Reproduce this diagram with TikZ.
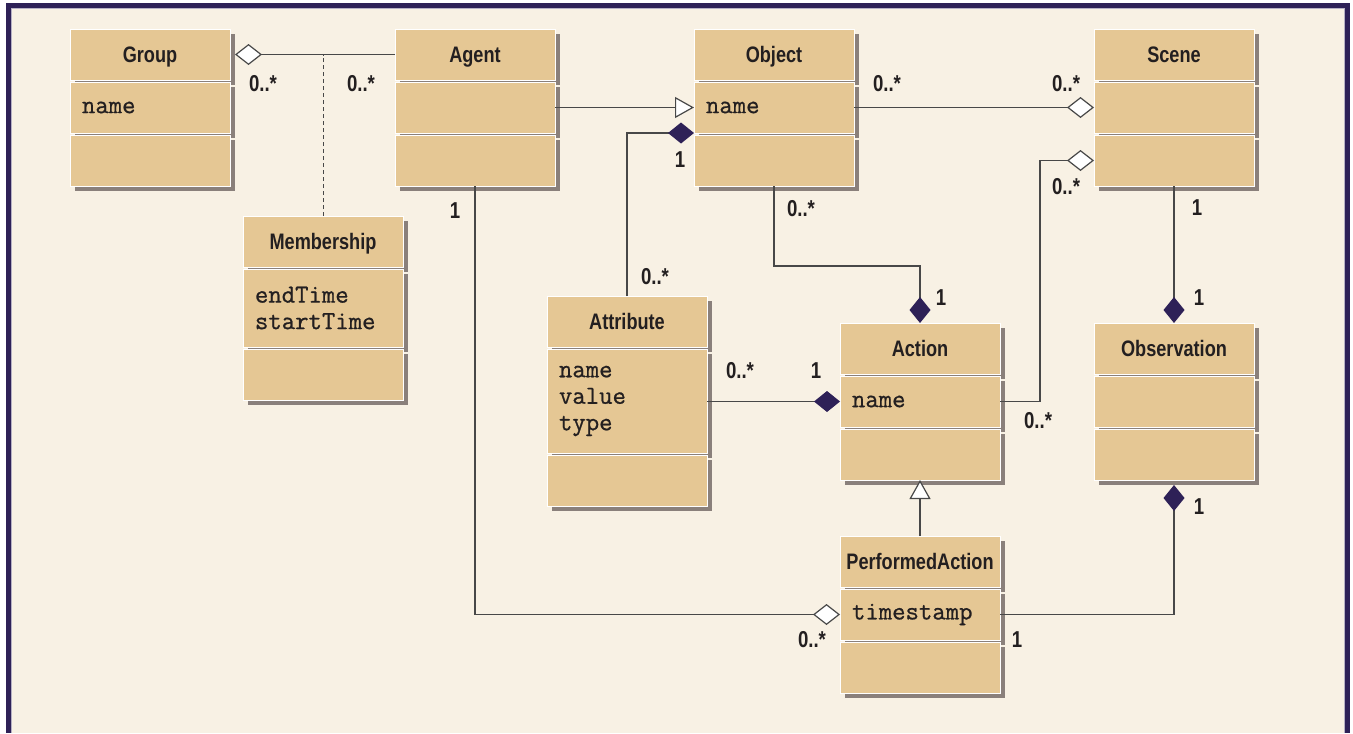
\documentclass[tikz,border=0pt]{standalone}
\usepackage{fontspec}
\usetikzlibrary{positioning,shadows,arrows.meta}
\newfontfamily\headfont{Liberation Sans}[FakeStretch=0.81]
\setmonofont{Latin Modern Mono}[FakeBold=0.8]
\definecolor{framecol}{HTML}{2E2157}
\definecolor{paper}{HTML}{F8F1E4}
\definecolor{boxfill}{HTML}{E5C794}
\definecolor{shade}{HTML}{8A807B}
\definecolor{linecol}{HTML}{484848}
\definecolor{textcol}{HTML}{231F20}
\begin{document}
\begin{tikzpicture}[x=0.5pt, y=-0.5pt,
		comp/.style={rectangle, draw=white, line width=0.5pt, fill=boxfill, outer sep=0pt,
			minimum width=80pt, minimum height=25.5pt, inner xsep=6pt, text=textcol,
			general shadow={fill=shade, shadow xshift=2.5pt, shadow yshift=-2.5pt}},
		classhead/.style={comp, inner xsep=2pt, text height=10pt, text depth=2pt,
			font=\headfont\bfseries\fontsize{11.2}{13}\selectfont},
		classattr/.style={comp, font=\ttfamily\fontsize{13}{13.25}\selectfont, text width=68pt, align=left},
		classop/.style={comp},
		mult/.style={font=\headfont\bfseries\fontsize{11.5}{13}\selectfont, text=textcol, inner sep=0pt},
		link/.style={draw=linecol, line width=0.6pt},
		composite/.style={link, -{Diamond[color=framecol, length=13pt, width=10.5pt]}},
		aggregate/.style={link, -{Diamond[fill=white, length=13.5pt, width=10.5pt]}},
		inherit/.style={link, -{Triangle[fill=white, length=9.5pt, width=10.5pt]}}]
		\fill[white] (0,0) rectangle (1353,733);
		\fill[framecol] (6,3) rectangle (1350,733);
		\fill[paper] (11,8) rectangle (1345,733);
		\draw[framecol!35, line width=0.5pt] (11.5,733) -- (11.5,8.5) -- (1344.5,8.5) -- (1344.5,733);

		\node[classhead, anchor=north west] (group-t) at (70,29) {Group};
		\node[classattr, below=1pt of group-t] (group-a) {name};
		\node[classop, below=1pt of group-a] (group-o) {};

		\node[classhead, anchor=north west] (agent-t) at (395,29) {Agent};
		\node[classattr, below=1pt of agent-t] (agent-a) {};
		\node[classop, below=1pt of agent-a] (agent-o) {};

		\node[classhead, anchor=north west] (object-t) at (694,29) {Object};
		\node[classattr, below=1pt of object-t] (object-a) {name};
		\node[classop, below=1pt of object-a] (object-o) {};

		\node[classhead, anchor=north west] (scene-t) at (1094,29) {Scene};
		\node[classattr, below=1pt of scene-t] (scene-a) {};
		\node[classop, below=1pt of scene-a] (scene-o) {};

		\node[classhead, anchor=north west] (member-t) at (243,216) {Membership};
		\node[classattr, minimum height=39pt, below=1pt of member-t] (member-a) {endTime\\startTime};
		\node[classop, below=1pt of member-a] (member-o) {};

		\node[classhead, anchor=north west] (attr-t) at (547,296) {Attribute};
		\node[classattr, minimum height=52pt, below=1pt of attr-t] (attr-a) {name\\value\\type};
		\node[classop, below=1pt of attr-a] (attr-o) {};

		\node[classhead, anchor=north west] (action-t) at (840,323) {Action};
		\node[classattr, below=1pt of action-t] (action-a) {name};
		\node[classop, below=1pt of action-a] (action-o) {};

		\node[classhead, anchor=north west] (obs-t) at (1094,323) {Observation};
		\node[classattr, below=1pt of obs-t] (obs-a) {};
		\node[classop, below=1pt of obs-a] (obs-o) {};

		\node[classhead, anchor=north west] (pact-t) at (840,536) {PerformedAction};
		\node[classattr, below=1pt of pact-t] (pact-a) {timestamp};
		\node[classop, below=1pt of pact-a] (pact-o) {};

		\draw[aggregate] (agent-t.west) -- ([xshift=2.5pt]group-t.east);
		\draw[link, dash pattern=on 2pt off 1.5pt, line width=0.5pt] (member-t.north) -- (member-t.north |- agent-t.west);
		\draw[inherit] (agent-a.east) -- (object-a.west);
		\draw[composite] (attr-t.north) |- (object-a.south west);
		\draw[aggregate] (object-a.east) -- (scene-a.west);
		\draw[composite] (object-o.south) |- ([yshift=28.5pt]action-t.north) -- (action-t.north);
		\draw[composite] (attr-a.east |- action-a.west) -- (action-a.west);
		\draw[aggregate] (action-a.east) -- ++(40,0) |- (scene-o.west);
		\draw[composite] (scene-o.south) -- (obs-t.north);
		\draw[composite] (pact-a.east) -| ([yshift=-2.5pt]obs-o.south);
		\draw[aggregate] (agent-o.south) |- (pact-a.west);
		\draw[inherit] (pact-t.north) -- (action-o.south);

		\node[mult] (m-group) at (263,84) {0..*};
		\node[mult] (m-agent) at (361,84) {0..*};
		\node[mult] (m-objattr) at (680,160) {1};
		\node[mult] (m-attrobj) at (655,277) {0..*};
		\node[mult] (m-objscene) at (887,84) {0..*};
		\node[mult] (m-sceneobj) at (1066,84) {0..*};
		\node[mult] (m-sceneact) at (1066,187) {0..*};
		\node[mult] (m-objact) at (801,209) {0..*};
		\node[mult] (m-agentpact) at (455,211) {1};
		\node[mult] (m-actobj) at (941,298) {1};
		\node[mult] (m-attract) at (740,371) {0..*};
		\node[mult] (m-actattr) at (816,371) {1};
		\node[mult] (m-actscene) at (1038,421) {0..*};
		\node[mult] (m-scenetop) at (1197,208) {1};
		\node[mult] (m-obstop) at (1199,298) {1};
		\node[mult] (m-obsbot) at (1199,507) {1};
		\node[mult] (m-pactobs) at (1017,640) {1};
		\node[mult] (m-pactagent) at (812,640) {0..*};
	\end{tikzpicture}
\end{document}
